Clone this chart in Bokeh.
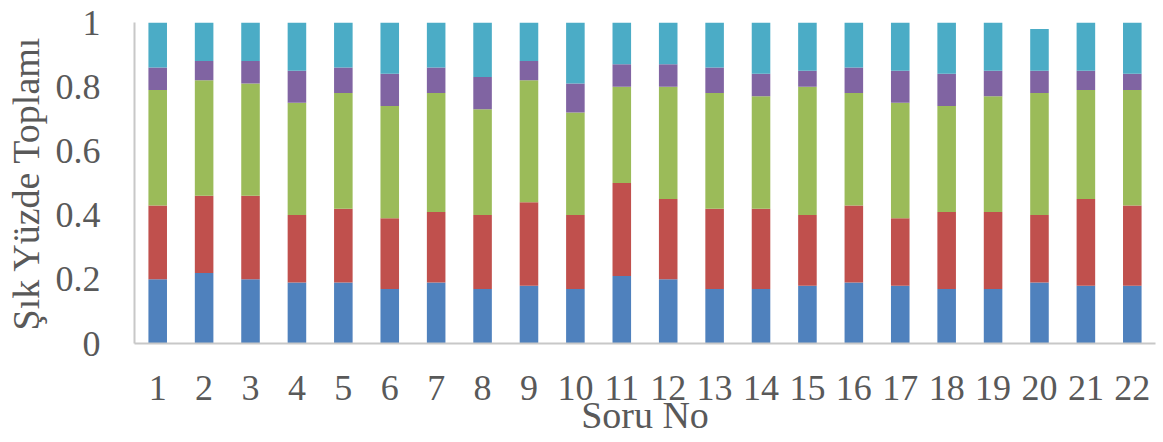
from bokeh.plotting import figure
from bokeh.models import FixedTicker, NumeralTickFormatter, Range1d, FactorRange
from bokeh.embed import file_html
from bokeh.resources import INLINE

# Question numbers and the share of each answer option per question
questions = [str(i) for i in range(1, 23)]
option_a = [0.20, 0.22, 0.20, 0.19, 0.19, 0.17, 0.19, 0.17, 0.18, 0.17, 0.21,
            0.20, 0.17, 0.17, 0.18, 0.19, 0.18, 0.17, 0.17, 0.19, 0.18, 0.18]
option_b = [0.23, 0.24, 0.26, 0.21, 0.23, 0.22, 0.22, 0.23, 0.26, 0.23, 0.29,
            0.25, 0.25, 0.25, 0.22, 0.24, 0.21, 0.24, 0.24, 0.21, 0.27, 0.25]
option_c = [0.36, 0.36, 0.35, 0.35, 0.36, 0.35, 0.37, 0.33, 0.38, 0.32, 0.30,
            0.35, 0.36, 0.35, 0.40, 0.35, 0.36, 0.33, 0.36, 0.38, 0.34, 0.36]
option_d = [0.07, 0.06, 0.07, 0.10, 0.08, 0.10, 0.08, 0.10, 0.06, 0.09, 0.07,
            0.07, 0.08, 0.07, 0.05, 0.08, 0.10, 0.10, 0.08, 0.07, 0.06, 0.05]
option_e = [0.14, 0.12, 0.12, 0.15, 0.14, 0.16, 0.14, 0.17, 0.12, 0.19, 0.13,
            0.13, 0.14, 0.16, 0.15, 0.14, 0.15, 0.16, 0.15, 0.13, 0.15, 0.16]
y_ticks = [0, 0.2, 0.4, 0.6, 0.8, 1]

series = ["a", "b", "c", "d", "e"]
colors = ["#4F81BD", "#C0504D", "#9BBB59", "#8064A2", "#4BACC6"]
source = dict(q=questions, a=option_a, b=option_b, c=option_c, d=option_d, e=option_e)

FONT = "Liberation Serif"
TEXT = "#595959"

p = figure(
    width=1163, height=442,
    x_range=FactorRange(*questions, range_padding=0),
    y_range=Range1d(0, 1),
    output_backend="svg", toolbar_location=None,
    min_border_left=134, min_border_right=8, min_border_top=22, min_border_bottom=99,
)
p.vbar_stack(series, x="q", width=0.4, color=colors, line_color=None, source=source)

p.outline_line_color = None
p.xgrid.grid_line_color = None
p.ygrid.grid_line_color = None
p.background_fill_color = "white"
p.border_fill_color = "white"

for ax in (p.xaxis[0], p.yaxis[0]):
    ax.axis_line_color = "#C8C8C8"
    ax.axis_line_width = 2
    ax.major_tick_line_color = None
    ax.minor_tick_line_color = None
    ax.major_label_text_font = FONT
    ax.major_label_text_font_size = "36px"
    ax.major_label_text_color = TEXT
    ax.axis_label_text_font = FONT
    ax.axis_label_text_font_size = "38px"
    ax.axis_label_text_font_style = "normal"
    ax.axis_label_text_color = TEXT

p.yaxis[0].ticker = FixedTicker(ticks=y_ticks)
p.yaxis[0].formatter = NumeralTickFormatter(format="0.[0]")
p.yaxis[0].major_label_standoff = 28
p.yaxis[0].axis_label = "Şık Yüzde Toplamı"
p.yaxis[0].axis_label_standoff = 6

p.xaxis[0].major_label_standoff = 26
p.xaxis[0].axis_label = "Soru No"
p.xaxis[0].axis_label_standoff = -9

open("out.html", "w").write(file_html(p, INLINE))
